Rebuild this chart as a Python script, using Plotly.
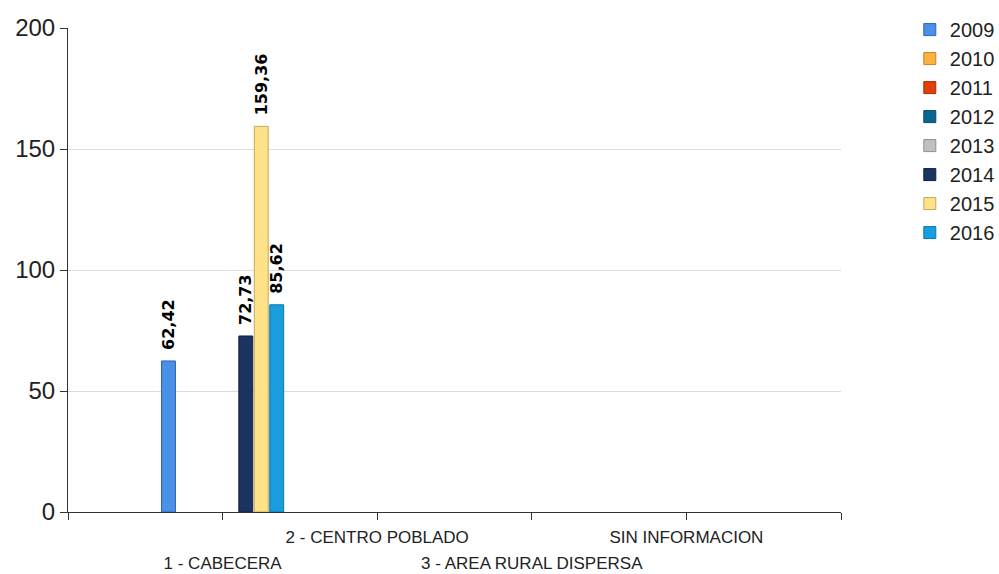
import plotly.graph_objects as go

categories = ["1 - CABECERA", "2 - CENTRO POBLADO", "3 - AREA RURAL DISPERSA", "SIN INFORMACION"]
cat_pos = [1, 2, 3, 4]
years = ["2009", "2010", "2011", "2012", "2013", "2014", "2015", "2016"]
values = {
    "2009": [62.42, None, None, None],
    "2010": [None, None, None, None],
    "2011": [None, None, None, None],
    "2012": [None, None, None, None],
    "2013": [None, None, None, None],
    "2014": [72.73, None, None, None],
    "2015": [159.36, None, None, None],
    "2016": [85.62, None, None, None],
}
colors = ["#4a8fe8", "#fbb040", "#e0400c", "#0a6690", "#c0c0c0", "#1b345f", "#fde289", "#189edc"]
edges = ["#2f64b0", "#c88420", "#a82c06", "#064a6a", "#909090", "#0f2040", "#c2a85c", "#0e74a8"]

# axis ticks at category boundaries; labels staggered in two rows
tick_vals = [0, 1, 2, 3, 4, 5]
upper_text = ["", "", categories[1], "", categories[3], ""]
lower_text = ["", categories[0], "", categories[2], "", ""]

fig = go.Figure()
for i, yr in enumerate(years):
    fig.add_trace(go.Bar(
        x=cat_pos, y=values[yr], name=yr, legendgroup=yr,
        marker=dict(color=colors[i], line=dict(color=edges[i], width=1)),
        texttemplate="\u2002%{y:.2f}", textposition="outside", textangle=-90,
        constraintext="none",
        textfont=dict(family="DejaVu Sans", size=16, color="#000000", weight="bold"),
        cliponaxis=False,
    ))

# invisible trace on the overlay axis so it renders
fig.add_trace(go.Scatter(x=[0, 5], y=[None, None], xaxis="x2", showlegend=False,
                         hoverinfo="skip", mode="markers"))

axis_font = dict(family="Liberation Sans, Arial", size=17, color="#222222")

fig.update_layout(
    width=999, height=574,
    margin=dict(l=68, r=158, t=28, b=62, autoexpand=False),
    paper_bgcolor="white", plot_bgcolor="white",
    barmode="group", bargap=0.2, bargroupgap=0.1,
    separators=",.",
    font=dict(family="Liberation Sans, Arial", color="#222222"),
    legend=dict(x=1.089, y=1.037, xanchor="left", yanchor="top",
                font=dict(size=20, color="#222222"), tracegroupgap=0,
                bgcolor="rgba(0,0,0,0)"),
    xaxis=dict(range=[0, 5], tickmode="array", tickvals=tick_vals, ticktext=upper_text,
               tickangle=0, automargin=False, ticklabelstandoff=3,
               showgrid=False, zeroline=False, showline=True, linecolor="#333333", linewidth=1,
               ticks="outside", ticklen=7, tickcolor="#333333",
               tickfont=axis_font),
    xaxis2=dict(range=[0, 5], overlaying="x", side="bottom", anchor="y",
                tickmode="array", tickvals=tick_vals, ticktext=lower_text,
                tickangle=0, automargin=False, ticklabelstandoff=39,
                showgrid=False, zeroline=False, showline=False, ticks="",
                tickfont=axis_font),
    yaxis=dict(range=[0, 200], tickvals=[0, 50, 100, 150, 200], automargin=False,
               showgrid=True, gridcolor="#dcdcdc", gridwidth=1, zeroline=False,
               showline=True, linecolor="#333333", linewidth=1,
               ticks="outside", ticklen=7, tickcolor="#333333",
               tickfont=dict(family="Liberation Sans, Arial", size=24, color="#222222")),
)

fig.write_html("out.html", config={"displayModeBar": False},
               post_script="document.body.style.margin='0';document.body.style.overflow='hidden';")
